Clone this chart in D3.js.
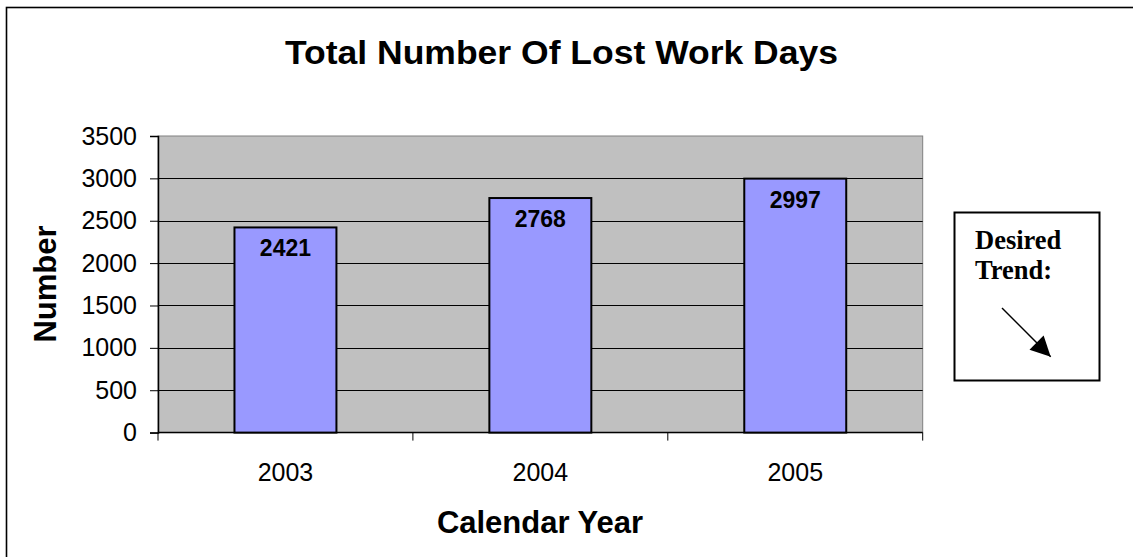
<!DOCTYPE html>
<html>
<head>
<meta charset="utf-8">
<script src="https://cdn.jsdelivr.net/npm/d3@7/dist/d3.min.js"></script>
<style>
  html, body { margin: 0; padding: 0; background: #fff; }
  svg { display: block; }
</style>
</head>
<body>
<svg id="chart" width="1133" height="557"></svg>
<script>
// ---- data ----
const categories = ["2003", "2004", "2005"];
const values = [2421, 2768, 2997];
const yTicks = [0, 500, 1000, 1500, 2000, 2500, 3000, 3500];
const titleText = "Total Number Of Lost Work Days";
const xTitle = "Calendar Year";
const yTitle = "Number";
const noteLines = ["Desired", "Trend:"];

// ---- layout ----
const svg = d3.select("#chart");
const plot = { left: 158, right: 922.7, top: 136, bottom: 432.6 };

// outer border (only top & left visible)
svg.append("rect")
  .attr("x", 6.5).attr("y", 7.5).attr("width", 1200).attr("height", 600)
  .attr("fill", "none").attr("stroke", "#000").attr("stroke-width", 1.6);

const x = d3.scaleBand().domain(categories).range([plot.left, plot.right]).padding(0);
const y = d3.scaleLinear().domain([0, 3500]).range([plot.bottom, plot.top]);

// plot background
svg.append("rect")
  .attr("x", plot.left).attr("y", plot.top)
  .attr("width", plot.right - plot.left).attr("height", plot.bottom - plot.top)
  .attr("fill", "#c0c0c0").attr("stroke", "#808080").attr("stroke-width", 1);

// gridlines
svg.append("g").selectAll("line").data(yTicks.filter(d => d > 0 && d < 3500)).join("line")
  .attr("x1", plot.left).attr("x2", plot.right)
  .attr("y1", d => Math.round(y(d)) + 0.5).attr("y2", d => Math.round(y(d)) + 0.5)
  .attr("stroke", "#000").attr("stroke-width", 1);

// y axis
const yAxis = svg.append("g").attr("transform", `translate(${plot.left},0)`)
  .call(d3.axisLeft(y).tickValues(yTicks).tickSize(8).tickPadding(13).tickFormat(d3.format("d")));
yAxis.select(".domain").attr("stroke", "#000").attr("stroke-width", 1.5);
yAxis.selectAll(".tick line").attr("stroke", "#000");
yAxis.selectAll(".tick text")
  .attr("font-family", "Arial, 'Liberation Sans', sans-serif")
  .attr("font-size", 25).attr("fill", "#000");

// x axis
const xAxisG = svg.append("g").attr("transform", `translate(0,${plot.bottom})`);
xAxisG.append("line").attr("x1", plot.left).attr("x2", plot.right)
  .attr("y1", 0).attr("y2", 0).attr("stroke", "#000").attr("stroke-width", 1.5);
const bounds = categories.map(c => x(c)).concat([x(categories[categories.length - 1]) + x.bandwidth()]);
xAxisG.selectAll("line.tk").data(bounds).join("line").attr("class", "tk")
  .attr("x1", d => d).attr("x2", d => d).attr("y1", 0).attr("y2", 8)
  .attr("stroke", "#000").attr("stroke-width", 1);
xAxisG.selectAll("text").data(categories).join("text")
  .attr("x", d => x(d) + x.bandwidth() / 2).attr("y", 48)
  .attr("text-anchor", "middle")
  .attr("font-family", "Arial, 'Liberation Sans', sans-serif")
  .attr("font-size", 25).attr("fill", "#000")
  .text(d => d);

// bars
const barW = x.bandwidth() * 0.4;
svg.append("g").selectAll("rect").data(values).join("rect")
  .attr("x", (d, i) => x(categories[i]) + (x.bandwidth() - barW) / 2)
  .attr("y", d => y(d))
  .attr("width", barW)
  .attr("height", d => y(0) - y(d))
  .attr("fill", "#9999ff").attr("stroke", "#000").attr("stroke-width", 2);

// bar labels
svg.append("g").selectAll("text").data(values).join("text")
  .attr("x", (d, i) => x(categories[i]) + x.bandwidth() / 2)
  .attr("y", d => y(d) + 29)
  .attr("text-anchor", "middle")
  .attr("font-family", "Arial, 'Liberation Sans', sans-serif")
  .attr("font-weight", "bold").attr("font-size", 23).attr("fill", "#000")
  .text(d => d);

// title
svg.append("text")
  .attr("x", 561.5).attr("y", 64)
  .attr("text-anchor", "middle")
  .attr("font-family", "Arial, 'Liberation Sans', sans-serif")
  .attr("font-weight", "bold").attr("font-size", 34)
  .attr("textLength", 553).attr("lengthAdjust", "spacingAndGlyphs")
  .text(titleText);

// axis titles
svg.append("text")
  .attr("x", 540).attr("y", 533)
  .attr("text-anchor", "middle")
  .attr("font-family", "Arial, 'Liberation Sans', sans-serif")
  .attr("font-weight", "bold").attr("font-size", 31)
  .text(xTitle);
svg.append("text")
  .attr("transform", "translate(56,284) rotate(-90)")
  .attr("text-anchor", "middle")
  .attr("font-family", "Arial, 'Liberation Sans', sans-serif")
  .attr("font-weight", "bold").attr("font-size", 31)
  .text(yTitle);

// desired trend box
const note = svg.append("g");
note.append("rect")
  .attr("x", 954.5).attr("y", 212.5).attr("width", 145).attr("height", 168)
  .attr("fill", "#fff").attr("stroke", "#000").attr("stroke-width", 2);
note.selectAll("text").data(noteLines).join("text")
  .attr("x", 975).attr("y", (d, i) => 249 + i * 30)
  .attr("font-family", "'Times New Roman', 'Liberation Serif', serif")
  .attr("font-weight", "bold").attr("font-size", 26.5)
  .text(d => d);
svg.append("defs").append("marker")
  .attr("id", "arrow").attr("viewBox", "0 0 10 10")
  .attr("refX", 10).attr("refY", 5)
  .attr("markerWidth", 22).attr("markerHeight", 20)
  .attr("markerUnits", "userSpaceOnUse")
  .attr("orient", "auto")
  .append("path").attr("d", "M0,0 L10,5 L0,10 Z").attr("fill", "#000");
note.append("line")
  .attr("x1", 1002).attr("y1", 308).attr("x2", 1050.7).attr("y2", 356.7)
  .attr("stroke", "#000").attr("stroke-width", 1.5)
  .attr("marker-end", "url(#arrow)");
</script>
</body>
</html>
